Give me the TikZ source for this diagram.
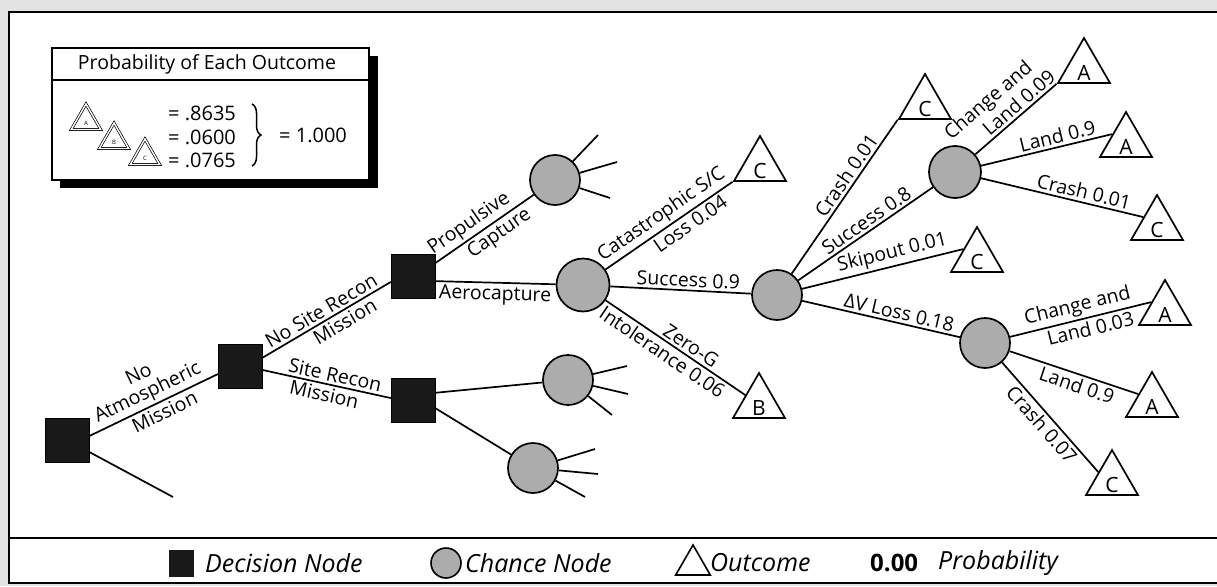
\documentclass[tikz,border=0pt]{standalone}
\usepackage{fontspec}
\setmainfont{Open Sans}
\usetikzlibrary{shapes.geometric,decorations.pathreplacing}
\begin{document}
\begin{tikzpicture}[x=1pt,y=-1pt,
  decnode/.style={fill=black!90, draw=black, minimum size=44pt, inner sep=0pt},
  chance/.style={circle, draw=black, line width=1.7pt, fill=gray!65, minimum size=50pt, inner sep=0pt},
  outc/.style={regular polygon, regular polygon sides=3, draw=black, line width=1.7pt, fill=white, minimum size=60pt, inner sep=0pt,
     label={[font=\fontsize{21}{21}\selectfont, yshift=-5pt, inner sep=0pt]center:#1}},
  conn/.style={line width=1.7pt},
  lab/.style={font=\fontsize{19.5}{20}\selectfont, sloped, inner sep=2.5pt, align=center},
  ltri/.style={regular polygon, regular polygon sides=3, draw=black, line width=.7pt, double=white, double distance=1.4pt, minimum size=34pt, inner sep=0pt,
     label={[font=\fontsize{6}{6}\selectfont, yshift=-2pt, inner sep=0pt]center:#1}},
  legtxt/.style={anchor=west, font=\itshape\fontsize{25}{25}\selectfont, inner sep=0pt},
  valtxt/.style={anchor=west, font=\fontsize{20}{20}\selectfont, inner sep=0pt}]
\useasboundingbox (0,0) rectangle (1217,586);
% background and frame
\fill[gray!22] (0,0) rectangle (1217,586);
\draw[line width=2pt, fill=white] (9,12) rectangle (1240,583);
\draw[line width=2pt] (9,538) -- (1217,538);

% legend box
\node[fill=black, minimum width=318pt, minimum height=132pt, inner sep=0pt] (lshadow) at (218.5,122) {};
\node[draw=black, line width=1.5pt, fill=white, minimum width=317pt, minimum height=132pt, inner sep=0pt] (legbox) at (210.5,114) {};
\draw[line width=1.2pt] (legbox.west |- 0,80) -- (legbox.east |- 0,80);
\node[font=\fontsize{19.5}{19.5}\selectfont, inner sep=0pt] (ltitle) at (207,64) {Probability of Each Outcome};
\node[ltri={A}] (la) at (86,121) {};
\node[ltri={B}] (lb) at (114,140) {};
\node[ltri={C}] (lc) at (145,156) {};
\node[valtxt] (v1) at (168,113) {= .8635};
\node[valtxt] (v2) at (168,137) {= .0600};
\node[valtxt] (v3) at (168,160) {= .0765};
\draw[decorate, decoration={brace, amplitude=9pt}, line width=1.5pt] (252,104) -- (252,166);
\node[valtxt] (vsum) at (279,135) {= 1.000};

% decision nodes
\node[decnode] (D1) at (67,440) {};
\node[decnode] (D2) at (240,366) {};
\node[decnode] (D3) at (413,276) {};
\node[decnode] (D4) at (413,400) {};
\coordinate (d1x) at (173,497);

% chance nodes
\node[chance] (C1) at (555,180) {};
\node[chance, minimum size=53pt] (C2) at (583,285) {};
\node[chance] (C3) at (568,380) {};
\node[chance] (C4) at (533,468) {};
\node[chance] (C5) at (777,295) {};
\node[chance, minimum size=52pt] (C6) at (955,172) {};
\node[chance] (C7) at (985,343) {};

% stub ends
\coordinate (s11) at (598,135);
\coordinate (s12) at (617,162);
\coordinate (s13) at (610,198);
\coordinate (s31) at (627,366);
\coordinate (s32) at (628,394);
\coordinate (s33) at (612,415);
\coordinate (s41) at (595,449);
\coordinate (s42) at (598,474);
\coordinate (s43) at (585,497);

% outcomes
\node[outc={C}] (T1) at (760,166) {};
\node[outc={B}] (T2) at (759,403) {};
\node[outc={C}] (T3) at (925,104) {};
\node[outc={A}] (T4) at (1084,68) {};
\node[outc={A}] (T5) at (1126,142) {};
\node[outc={C}] (T6) at (1157,225) {};
\node[outc={C}] (T7) at (977,257) {};
\node[outc={A}] (T8) at (1165,310) {};
\node[outc={A}] (T9) at (1152,402) {};
\node[outc={C}] (T10) at (1112,480) {};

% connectors
\draw[conn] (D1.10) -- node[lab, above, pos=.5] {No\\Atmospheric} node[lab, below, pos=.55] {Mission} (D2.200);
\draw[conn] (D1) -- (d1x);
\draw[conn] (D2.20) -- node[lab, above, pos=.5] {No Site Recon} node[lab, below, pos=.6] {Mission} (D3.195);
\draw[conn] (D2.-10) -- node[lab, above, pos=.55] {Site Recon} node[lab, below, pos=.5] {Mission} (D4.175);
\draw[conn] (D3.30) -- node[lab, above, pos=.42] {Propulsive} node[lab, below, pos=.58] {Capture} (C1);
\draw[conn] (D3.-13) -- node[lab, below, pos=.5] {Aerocapture} (C2);
\draw[conn] (D4.18) -- (C3);
\draw[conn] (D4.-20) -- (C4);

\draw[conn] (C1) -- (s11);
\draw[conn] (C1) -- (s12);
\draw[conn] (C1) -- (s13);
\draw[conn] (C3) -- (s31);
\draw[conn] (C3) -- (s32);
\draw[conn] (C3) -- (s33);
\draw[conn] (C4) -- (s41);
\draw[conn] (C4) -- (s42);
\draw[conn] (C4) -- (s43);

\draw[conn] (C2) -- node[lab, above, pos=.5] {Catastrophic S/C} node[lab, below, pos=.62] {Loss 0.04} (T1.corner 2);
\draw[conn] (C2) -- node[lab, above, pos=.55] {Success 0.9} (C5);
\draw[conn] (C2) -- node[lab, above, pos=.57] {Zero-G} node[lab, below, pos=.45] {Intolerance 0.06} (T2.side 1);

\draw[conn] (C5) -- node[lab, above, pos=.6] {Crash 0.01} (T3.corner 2);
\draw[conn] (C5) -- node[lab, above, pos=.55] {Success 0.8} (C6);
\draw[conn] (C5) -- node[lab, above, pos=.58] {Skipout 0.01} (T7.side 1);
\draw[conn] (C5) -- node[lab, above, pos=.6] {ΔV Loss 0.18} (C7);

\draw[conn] (C6) -- node[lab, above=18pt, pos=.42] {Change and} node[lab, above, pos=.62] {Land 0.09} (T4.corner 2);
\draw[conn] (C6) -- node[lab, above, pos=.6] {Land 0.9} (T5.side 1);
\draw[conn] (C6) -- node[lab, above, pos=.62] {Crash 0.01} (T6.side 1);

\draw[conn] (C7) -- node[lab, above, pos=.5] {Change and} node[lab, below, pos=.55] {Land 0.03} (T8.side 1);
\draw[conn] (C7) -- node[lab, below, pos=.55] {Land 0.9} (T9.side 1);
\draw[conn] (C7) -- node[lab, below, pos=.5] {Crash 0.07} (T10.side 1);

% key at bottom
\node[fill=black!90, minimum width=25pt, minimum height=27pt, inner sep=0pt] (kD) at (181,563) {};
\node[legtxt] (kDt) at (205,563) {Decision Node};
\node[circle, draw=black, line width=1.6pt, fill=gray!65, minimum size=30pt, inner sep=0pt] (kC) at (446,563) {};
\node[legtxt] (kCt) at (465,563) {Chance Node};
\node[regular polygon, regular polygon sides=3, draw=black, line width=1.6pt, minimum size=40pt, inner sep=0pt] (kO) at (693,565) {};
\node[legtxt] (kOt) at (710,563) {Outcome};
\node[anchor=west, font=\bfseries\fontsize{24}{24}\selectfont, inner sep=0pt] (kP) at (870,563) {0.00};
\node[legtxt] (kPt) at (938,563) {Probability};
\end{tikzpicture}
\end{document}
